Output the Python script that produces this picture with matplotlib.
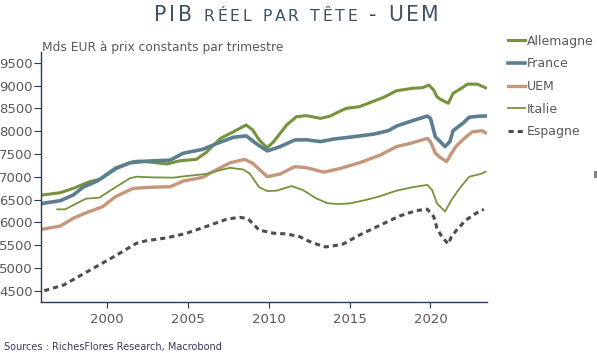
import matplotlib
matplotlib.use("Agg")
import matplotlib.pyplot as plt
from matplotlib.patches import Rectangle

# values (year, EUR per head per quarter)
allemagne_x = [1996.0, 1997.1, 1997.9, 1998.9, 1999.6, 2000.6, 2001.6, 2002.0, 2003.7, 2004.5,
               2005.5, 2006.1, 2007.0, 2007.8, 2008.6, 2009.0, 2009.4, 2009.9, 2010.3, 2011.1,
               2011.7, 2012.3, 2013.2, 2013.8, 2014.3, 2014.8, 2015.6, 2016.4, 2017.1, 2017.9,
               2018.9, 2019.5, 2019.9, 2020.2, 2020.4, 2020.6, 2021.1, 2021.4, 2021.8, 2022.3,
               2022.9, 2023.4]
allemagne_y = [6600, 6650, 6745, 6890, 6950, 7185, 7330, 7345, 7280, 7350,
               7380, 7525, 7840, 7985, 8135, 8025, 7805, 7635, 7770, 8135,
               8315, 8340, 8280, 8330, 8420, 8500, 8535, 8645, 8740, 8885,
               8940, 8950, 9010, 8900, 8755, 8700, 8610, 8830, 8915, 9030,
               9030, 8950]

france_x = [1996.0, 1997.1, 1997.9, 1998.5, 1999.4, 2000.5, 2001.4, 2002.4, 2003.9, 2004.7,
            2005.9, 2006.8, 2007.8, 2008.6, 2009.2, 2009.9, 2010.7, 2011.6, 2012.3, 2013.2,
            2014.0, 2015.2, 2016.5, 2017.4, 2017.9, 2018.9, 2019.8, 2020.0, 2020.3, 2020.6,
            2020.9, 2021.2, 2021.4, 2022.0, 2022.4, 2023.1, 2023.4]
france_y = [6415, 6475, 6600, 6770, 6910, 7185, 7305, 7340, 7365, 7515,
            7600, 7730, 7865, 7895, 7730, 7565, 7660, 7805, 7810, 7770,
            7825, 7875, 7935, 8010, 8110, 8230, 8330, 8280, 7875, 7770,
            7660, 7770, 8010, 8170, 8305, 8330, 8330]

uem_x = [1996.0, 1997.1, 1997.9, 1998.7, 1999.7, 2000.5, 2001.6, 2002.8, 2003.9, 2004.7,
         2005.9, 2006.8, 2007.6, 2008.5, 2009.0, 2009.9, 2010.7, 2011.6, 2012.3, 2013.4,
         2014.4, 2015.6, 2016.9, 2017.9, 2018.9, 2019.8, 2020.0, 2020.3, 2020.6, 2021.0,
         2021.3, 2021.6, 2022.2, 2022.6, 2023.2, 2023.4]
uem_y = [5850, 5920, 6090, 6210, 6340, 6560, 6745, 6770, 6780, 6905,
         6985, 7160, 7305, 7380, 7295, 7000, 7060, 7220, 7200, 7100,
         7180, 7305, 7475, 7660, 7745, 7840, 7770, 7515, 7425, 7330,
         7515, 7675, 7875, 7985, 8010, 7965]

italie_x = [1996.9, 1997.4, 1998.1, 1998.7, 1999.5, 2000.4, 2001.4, 2001.8, 2002.8, 2004.1,
            2004.9, 2006.1, 2007.0, 2007.6, 2008.4, 2008.8, 2009.4, 2009.9, 2010.5, 2011.4,
            2012.1, 2012.9, 2013.6, 2014.3, 2015.0, 2016.0, 2016.9, 2017.9, 2018.9, 2019.8,
            2020.1, 2020.4, 2020.9, 2021.3, 2021.8, 2022.4, 2023.1, 2023.4]
italie_y = [6285, 6285, 6415, 6520, 6540, 6745, 6965, 7000, 6985, 6980,
            7015, 7060, 7145, 7195, 7160, 7075, 6770, 6685, 6695, 6795,
            6710, 6530, 6420, 6400, 6415, 6490, 6575, 6695, 6770, 6820,
            6710, 6415, 6235, 6490, 6745, 7000, 7060, 7110]

espagne_x = [1996.1, 1997.3, 1998.5, 1999.5, 2000.6, 2001.8, 2002.4, 2003.7, 2004.9, 2006.1,
             2007.4, 2008.2, 2008.7, 2009.4, 2010.3, 2011.1, 2011.9, 2012.7, 2013.5, 2014.1,
             2014.6, 2015.6, 2016.9, 2018.1, 2019.1, 2019.8, 2020.2, 2020.4, 2020.7, 2021.1,
             2021.3, 2021.7, 2022.2, 2022.8, 2023.3]
espagne_y = [4500, 4625, 4865, 5065, 5285, 5540, 5595, 5660, 5760, 5905,
             6070, 6110, 6080, 5830, 5760, 5745, 5685, 5550, 5460, 5490,
             5525, 5720, 5940, 6140, 6255, 6290, 6125, 5870, 5685, 5525,
             5685, 5870, 6050, 6195, 6285]

yticks = [4500, 5000, 5500, 6000, 6500, 7000, 7500, 8000, 8500, 9000, 9500]
xticks = [2000, 2005, 2010, 2015, 2020]

# title drawn in fake small caps: (text, font size)
title_parts = [("PIB", 14.8), (" ", 14.8), ("RÉEL", 11.3), (" ", 14.8), ("PAR", 11.3),
               (" ", 14.8), ("TÊTE", 11.3), (" ", 14.8), ("-", 14.8), (" ", 14.8), ("UEM", 14.8)]

GREEN = "#76923c"
BLUE = "#5b7f8e"
TAN = "#c4977a"
DARK = "#4d4d4d"
NAVY = "#243a5e"
GREY = "#595959"
TITLE_COL = "#3e5263"

W, H = 597, 353
fig = plt.figure(figsize=(5.97, 3.53), dpi=100)
ax = fig.add_axes([0.0687, 0.1453, 0.7463, 0.7082])

ax.plot(allemagne_x, allemagne_y, color=GREEN, lw=2.2, label="Allemagne")
ax.plot(france_x, france_y, color=BLUE, lw=2.6, label="France")
ax.plot(uem_x, uem_y, color=TAN, lw=2.4, label="UEM")
ax.plot(italie_x, italie_y, color=GREEN, lw=1.3, label="Italie")
ax.plot(espagne_x, espagne_y, color=DARK, lw=2.2, dashes=(1.7, 1.3), label="Espagne")

ax.set_xlim(1995.9, 2023.47)
ax.set_ylim(4259, 9741)
ax.set_xticks(xticks)
ax.set_yticks(yticks)

for s in ["top", "right"]:
    ax.spines[s].set_visible(False)
for s in ["left", "bottom"]:
    ax.spines[s].set_color(NAVY)
    ax.spines[s].set_linewidth(1.0)
ax.tick_params(axis="y", colors=NAVY, labelcolor=GREY, labelsize=9.5, length=5, width=0.8, pad=1)
ax.tick_params(axis="x", colors=NAVY, labelcolor=GREY, labelsize=9.5, length=4, width=0.8, pad=4)

# title, one character at a time so it can be tracked out to the reference width
renderer = fig.canvas.get_renderer()
chars = []
for txt, size in title_parts:
    for ch in txt:
        chars.append((ch, size))
widths = []
for ch, size in chars:
    if ch == " ":
        widths.append(size * 0.32 * fig.dpi / 72)
    else:
        t = fig.text(0, 0, ch, fontsize=size)
        widths.append(t.get_window_extent(renderer).width)
        t.remove()
target_w = 285.0
track = (target_w - sum(widths)) / (len(chars) - 1)
x = 296.6 - target_w / 2
for (ch, size), w in zip(chars, widths):
    if ch != " ":
        fig.text(x / W, 1 - 21.0 / H, ch, fontsize=size, color=TITLE_COL,
                 ha="left", va="baseline")
    x += w + track

fig.text(0.070, 0.866, "Mds EUR à prix constants par trimestre", ha="left", va="center",
         fontsize=8.8, color=GREY)
fig.text(0.007, 0.016, "Sources : RichesFlores Research, Macrobond", ha="left", va="center",
         fontsize=7, color="#3a3a5a")

fig.legend(loc="upper left", bbox_to_anchor=(0.851, 0.9015), frameon=False, fontsize=9,
           handlelength=1.36, handletextpad=0.15, labelspacing=0.77, borderpad=0,
           borderaxespad=0, labelcolor=GREY)

# small clipped grey mark on the right edge of the reference
fig.patches.append(Rectangle((594 / W, 1 - 178 / H), 3 / W, 7 / H, transform=fig.transFigure,
                             color="#808080", lw=0))

fig.savefig("out.png", dpi=100)
